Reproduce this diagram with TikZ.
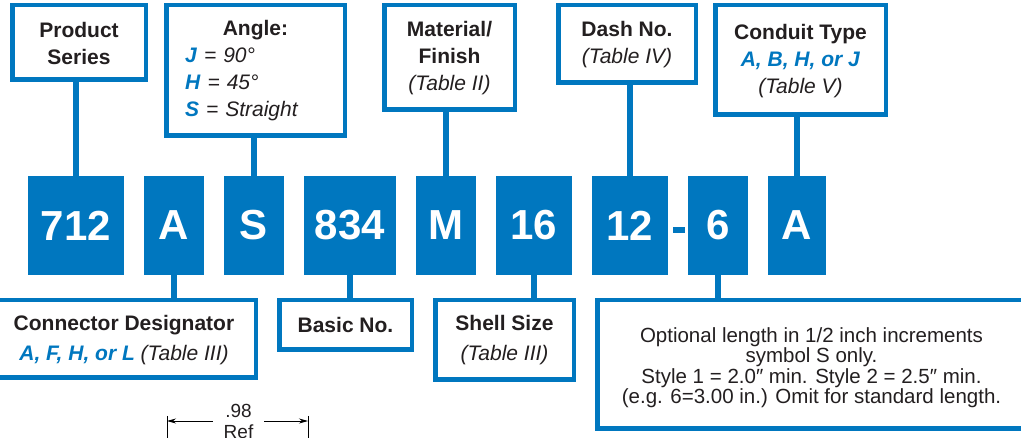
\documentclass[tikz,border=0pt]{standalone}
\usepackage{fontspec}
\setmainfont{Liberation Sans}
\usetikzlibrary{arrows.meta}
\definecolor{gblue}{HTML}{0077BF}
\definecolor{gtext}{HTML}{231F20}
\newcommand{\bl}[1]{\textcolor{gblue}{\textbf{\textit{#1}}}}
\begin{document}
\begin{tikzpicture}[x=1pt,y=-1pt,
  lbox/.style={draw=gblue, line width=4.5pt, fill=white, inner sep=0pt},
  lbl/.style={text=gtext, align=center, inner sep=0pt, font=\fontsize{21}{27}\selectfont},
  lblb/.style={text=gtext, align=center, inner sep=0pt, font=\fontsize{21}{30}\selectfont},
  optlbl/.style={text=gtext, align=center, inner sep=0pt, font=\fontsize{20.5}{20.5}\selectfont},
  code/.style={fill=gblue, text=white, inner sep=0pt, minimum height=99pt, font=\fontsize{42}{42}\selectfont\bfseries},
  stem/.style={draw=gblue, line width=5.5pt},
  dimline/.style={draw=black, line width=0.8pt},
  dimtext/.style={text=gtext, align=center, inner ysep=0pt, inner xsep=11pt, font=\fontsize{19}{20.5}\selectfont}
]
\useasboundingbox (0,0) rectangle (1021,438);
\clip (0,0) rectangle (1021,438);

% code boxes
\node[code, minimum width=96pt] (c712) at (76,225.5) {712};
\node[code, minimum width=60pt] (cA) at (174,225.5) {A};
\node[code, minimum width=60pt] (cS) at (254,225.5) {S};
\node[code, minimum width=92pt] (c834) at (350,225.5) {834};
\node[code, minimum width=60pt] (cM) at (446,225.5) {M};
\node[code, minimum width=76pt] (c16) at (534,225.5) {16};
\node[code, minimum width=76pt] (c12) at (630,225.5) {12};
\node[fill=gblue, minimum width=12pt, minimum height=6pt, inner sep=0pt] (dash) at (679,230) {};
\node[code, minimum width=60pt] (c6) at (718,225.5) {6};
\node[code, minimum width=58pt] (cA2) at (797,225.5) {A};

% top label boxes
\node[lbox, minimum width=133.5pt, minimum height=74.5pt] (ps) at (79,42.5) {};
\node[lbox, minimum width=178.5pt, minimum height=130.5pt] (ang) at (255.5,70.5) {};
\node[lbox, minimum width=130.5pt, minimum height=104.5pt] (mf) at (449.5,57.5) {};
\node[lbox, minimum width=137.5pt, minimum height=77.5pt] (dn) at (627,44) {};
\node[lbox, minimum width=170.5pt, minimum height=109.5pt] (ct) at (800.5,60) {};

% bottom label boxes
\node[lbox, minimum width=263.5pt, minimum height=77.5pt] (cd) at (124,339) {};
\node[lbox, minimum width=132.5pt, minimum height=49.5pt] (bn) at (345.5,325) {};
\node[lbox, minimum width=138.5pt, minimum height=79.5pt] (ss) at (504.5,340) {};
\node[lbox, minimum width=428.5pt, minimum height=128.5pt] (opt) at (811.5,364.5) {};

% stems
\draw[stem] (c712.north) -- (c712.north |- ps.south);
\draw[stem] (cS.north) -- (cS.north |- ang.south);
\draw[stem] (cM.north) -- (cM.north |- mf.south);
\draw[stem] (c12.north) -- (c12.north |- dn.south);
\draw[stem] (cA2.north) -- (cA2.north |- ct.south);
\draw[stem] (cA.south) -- (cA.south |- cd.north);
\draw[stem] (c834.south) -- (c834.south |- bn.north);
\draw[stem] (c16.south) -- (c16.south |- ss.north);
\draw[stem] (c6.south) -- (c6.south |- opt.north);

% top texts
\node[lbl] (pst) at (79,43.5) {\textbf{Product}\\\textbf{Series}};
\node[lbl, align=left, text width=174pt] (angt) at (255.5,71)
  {\makebox[174pt]{\bfseries Angle:}\\
   \hspace*{16.5pt}\bl{J}\textit{ = 90°}\\
   \hspace*{16.5pt}\bl{H}\textit{ = 45°}\\
   \hspace*{16.5pt}\bl{S}\textit{ = Straight}};
\node[lbl] (mft) at (449.5,58.5) {\textbf{Material/}\\\textbf{Finish}\\\textit{(Table II)}};
\node[lbl] (dnt) at (627,45) {\textbf{Dash No.}\\\textit{(Table IV)}};
\node[lbl] (ctt) at (800.5,61) {\textbf{Conduit Type}\\\bl{A, B, H, or J}\\\textit{(Table V)}};

% bottom texts
\node[lblb] (cdt) at (124,340) {\textbf{Connector Designator}\\\bl{A, F, H, or L}\textit{ (Table III)}};
\node[lblb] (bnt) at (bn.center) {\textbf{Basic No.}};
\node[lblb] (sst) at (504.5,340) {\textbf{Shell Size}\\\textit{(Table III)}};
\node[optlbl] (optt) at (811.5,367.5) {Optional length in 1/2 inch increments\\symbol S only.\\Style 1 = 2.0″ min. Style 2 = 2.5″ min.\\(e.g. 6=3.00 in.) Omit for standard length.};

% dimension
\coordinate (dl) at (167,421);
\coordinate (dr) at (308,421);
\node[dimtext] (dimt) at (238.5,421.5) {.98\\Ref};
\draw[dimline] (167,416) -- (167,440);
\draw[dimline] (308,416) -- (308,440);
\draw[dimline, -{Stealth[length=9pt,width=5pt]}] (dimt.west |- dl) -- (dl);
\draw[dimline, -{Stealth[length=9pt,width=5pt]}] (dimt.east |- dr) -- (dr);
\end{tikzpicture}
\end{document}
